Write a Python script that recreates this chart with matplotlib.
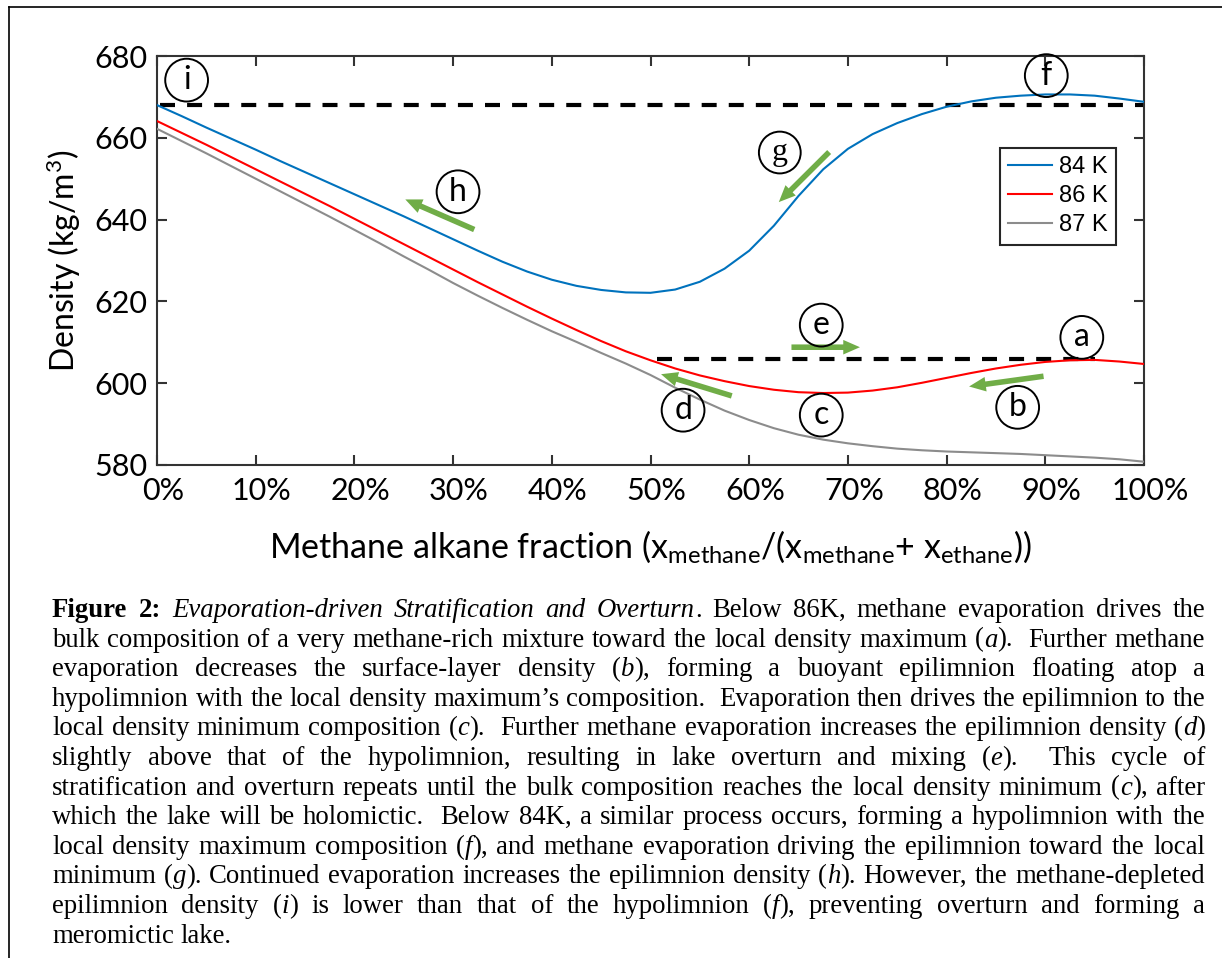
import matplotlib
matplotlib.use('Agg')
import matplotlib.pyplot as plt
import matplotlib.transforms as mtransforms
from matplotlib.patches import FancyArrowPatch
from matplotlib.lines import Line2D
from matplotlib.font_manager import FontProperties

plt.rcParams.update({
    'font.family': 'Lato',
    'mathtext.fontset': 'custom',
    'mathtext.rm': 'Lato',
    'mathtext.it': 'Lato:italic',
})

W, H = 1222, 958
BLUE = '#0072BD'
RED = '#FF0000'
GRAY = '#8C8C8C'
GREEN = '#70AD47'
AXC = '#333333'

# ---------------------------------------------------------------- data
x_frac = [0, 2.5, 5, 7.5, 10, 12.5, 15, 17.5, 20, 22.5, 25, 27.5, 30, 32.5, 35,
          37.5, 40, 42.5, 45, 47.5, 50, 52.5, 55, 57.5, 60, 62.5, 65, 67.5, 70,
          72.5, 75, 77.5, 80, 82.5, 85, 87.5, 90, 92.5, 95, 97.5, 100]
rho_84 = [668.0, 665.3, 662.5, 659.8, 657.1, 654.3, 651.6, 648.9, 646.2, 643.5,
          640.8, 638.0, 635.2, 632.4, 629.7, 627.3, 625.3, 623.8, 622.8, 622.2,
          622.1, 622.9, 624.8, 628.0, 632.4, 638.5, 645.8, 652.3, 657.3, 660.9,
          663.6, 665.8, 667.6, 668.9, 669.8, 670.3, 670.6, 670.6, 670.3, 669.6,
          668.8]
rho_86 = [664.1, 661.2, 658.3, 655.3, 652.3, 649.3, 646.3, 643.3, 640.2, 637.1,
          634.0, 630.9, 627.8, 624.7, 621.7, 618.7, 615.8, 613.0, 610.3, 607.8,
          605.6, 603.6, 601.9, 600.5, 599.3, 598.4, 597.8, 597.6, 597.7, 598.2,
          599.0, 600.1, 601.3, 602.5, 603.6, 604.5, 605.2, 605.6, 605.7, 605.3,
          604.7]
rho_87 = [662.2, 659.2, 656.2, 653.1, 650.0, 646.9, 643.8, 640.7, 637.5, 634.3,
          631.0, 627.8, 624.5, 621.4, 618.4, 615.5, 612.7, 610.1, 607.4, 604.8,
          602.0, 598.9, 596.0, 593.3, 591.0, 589.0, 587.4, 586.2, 585.3, 584.6,
          584.0, 583.6, 583.3, 583.1, 582.9, 582.7, 582.4, 582.1, 581.8, 581.4,
          580.8]

series = [('84 K', rho_84, BLUE),
          ('86 K', rho_86, RED),
          ('87 K', rho_87, GRAY)]

# dashed hypolimnion levels: (x start, x end, density)
hyp_lines = [(0.3, 100, 668.0), (50.7, 95.0, 606.0)]

# green arrows: tail (x, rho) -> head (x, rho)
arrows = [((32.4, 637.3), (24.9, 645.2)),   # h
          ((68.3, 657.0), (62.8, 643.8)),   # g
          ((64.0, 608.8), (71.5, 608.8)),   # e
          ((58.5, 596.7), (50.8, 602.4)),   # d
          ((90.1, 601.8), (82.0, 599.1))]   # b

# circled step labels
steps = ['a', 'b', 'c', 'd', 'e', 'f', 'g', 'h', 'i']
step_x = [93.7, 87.2, 67.3, 53.3, 67.3, 90.1, 63.1, 30.5, 3.0]
step_y = [611.2, 594.1, 592.2, 593.4, 614.2, 675.2, 656.4, 646.8, 674.1]

xticks = list(range(0, 101, 10))
yticks = [580, 600, 620, 640, 660, 680]

# ---------------------------------------------------------------- figure
fig = plt.figure(figsize=(W / 100, H / 100), dpi=100)
ax = fig.add_axes([157 / W, 1 - 465 / H, 987 / W, 409 / H])

for name, ys, c in series:
    ax.plot(x_frac, ys, color=c, lw=1.5, label=name, zorder=3)

for x0, x1, y in hyp_lines:
    ax.plot([x0, x1], [y, y], color='black', lw=3, linestyle=(0, (3.6, 2.9)),
            zorder=2, dash_capstyle='butt')

for (x0, y0), (x1, y1) in arrows:
    ax.add_patch(FancyArrowPatch((x0, y0), (x1, y1),
                 arrowstyle='simple,head_length=1.2,head_width=1.05,tail_width=0.4',
                 mutation_scale=10, color=GREEN, lw=0, zorder=4))

for s, x, y in zip(steps, step_x, step_y):
    fam = 'Liberation Serif' if s == 'g' else 'Lato'
    ax.text(x, y, s, ha='center', va='center', fontsize=23, family=fam,
            zorder=5, bbox=dict(boxstyle='circle,pad=0.2', fc='none',
                                ec='black', lw=1.4))

ax.set_xlim(0, 100)
ax.set_ylim(580, 680)
ax.set_xticks(xticks)
ax.set_xticklabels([f'{t}%' for t in xticks])
ax.set_yticks(yticks)
ax.tick_params(direction='in', top=True, right=True, length=7, width=1.5,
               color=AXC, labelsize=22, pad=7)
ax.tick_params(axis='x', pad=9)
for sp in ax.spines.values():
    sp.set_color(AXC)
    sp.set_linewidth(1.5)

offset = mtransforms.ScaledTranslation(0.06, 0, fig.dpi_scale_trans)
for lab in ax.get_xticklabels():
    lab.set_transform(lab.get_transform() + offset)

ax.set_ylabel('Density (kg/m$^3$)', fontsize=23)
ax.yaxis.set_label_coords(-0.095, 0.5)
ax.yaxis.label.set_va('center')
ax.set_xlabel(r'Methane alkane fraction (x$_{\mathrm{methane}}$/(x$_{\mathrm{methane}}$+ x$_{\mathrm{ethane}}$))',
              fontsize=24.5)
ax.xaxis.set_label_coords(0.5, (465 - 558) / 409)
ax.xaxis.label.set_va('baseline')

leg = ax.legend(loc='upper right', bbox_to_anchor=((1116 - 157) / 987, (465 - 148) / 409),
                borderaxespad=0, fancybox=False, framealpha=1, edgecolor='#262626',
                prop=FontProperties(family='Liberation Sans', size=17),
                handlelength=1.85, handletextpad=0.3, labelspacing=0.3,
                borderpad=0.35)
leg.get_frame().set_linewidth(1.5)

# outer frame
fig.add_artist(Line2D([9 / W, 1.0], [1 - 7 / H, 1 - 7 / H], color='black', lw=1.2,
                      transform=fig.transFigure))
fig.add_artist(Line2D([9 / W, 9 / W], [1 - 7 / H, 0.0], color='black', lw=1.2,
                      transform=fig.transFigure))

# ---------------------------------------------------------------- caption
CAPTION = [
    ("#Figure 2:# *Evaporation-driven Stratification and Overturn*. Below 86K, methane evaporation drives the", True),
    ("bulk composition of a very methane-rich mixture toward the local density maximum (*a*).  Further methane", True),
    ("evaporation decreases the surface-layer density (*b*), forming a buoyant epilimnion floating atop a", True),
    ("hypolimnion with the local density maximum\u2019s composition.  Evaporation then drives the epilimnion to the", True),
    ("local density minimum composition (*c*).  Further methane evaporation increases the epilimnion density (*d*)", True),
    ("slightly above that of the hypolimnion, resulting in lake overturn and mixing (*e*).  This cycle of", True),
    ("stratification and overturn repeats until the bulk composition reaches the local density minimum (*c*), after", True),
    ("which the lake will be holomictic.  Below 84K, a similar process occurs, forming a hypolimnion with the", True),
    ("local density maximum composition (*f*), and methane evaporation driving the epilimnion toward the local", True),
    ("minimum (*g*). Continued evaporation increases the epilimnion density (*h*). However, the methane-depleted", True),
    ("epilimnion density (*i*) is lower than that of the hypolimnion (*f*), preventing overturn and forming a", True),
    ("meromictic lake.", False),
]
CAP_LEFT, CAP_RIGHT = 52, 1205
CAP_TOP, CAP_STEP = 617, 29.6


def parse_words(line):
    words, cur, seg = [], [], ''
    bold = ital = False
    for ch in line:
        if ch in '#*':
            if seg:
                cur.append((seg, bold, ital))
                seg = ''
            if ch == '#':
                bold = not bold
            else:
                ital = not ital
        elif ch == ' ':
            if seg:
                cur.append((seg, bold, ital))
                seg = ''
            words.append(cur)
            cur = []
        else:
            seg += ch
    if seg:
        cur.append((seg, bold, ital))
    words.append(cur)
    return words


def fprop(size, bold, ital):
    return FontProperties(family='Liberation Serif', size=size,
                          weight='bold' if bold else 'normal',
                          style='italic' if ital else 'normal')


renderer = fig.canvas.get_renderer()


def tw(s, fp):
    return renderer.get_text_width_height_descent(s, fp, ismath=False)[0]


def space_w(size):
    fp = fprop(size, False, False)
    return tw('a a', fp) - tw('aa', fp)


def natural(words, size):
    ww = [sum(tw(s, fprop(size, b, i)) for s, b, i in w) for w in words]
    return ww, sum(ww) + space_w(size) * (len(words) - 1)


parsed = [(parse_words(t), j) for t, j in CAPTION]
size0 = 18.0
widest = max(natural(w, size0)[1] for w, j in parsed if j)
size = size0 * (CAP_RIGHT - CAP_LEFT) / widest

for k, (words, just) in enumerate(parsed):
    ww, nat = natural(words, size)
    gap = space_w(size)
    if just and len(words) > 1:
        gap = (CAP_RIGHT - CAP_LEFT - sum(ww)) / (len(words) - 1)
    x = CAP_LEFT
    yb = CAP_TOP + k * CAP_STEP
    for w, wwid in zip(words, ww):
        xs = x
        for s, b, i in w:
            fp = fprop(size, b, i)
            fig.text(xs / W, 1 - yb / H, s, fontproperties=fp, ha='left',
                     va='baseline', color='black')
            xs += tw(s, fp)
        x += wwid + gap

fig.savefig('out.png', dpi=100)
